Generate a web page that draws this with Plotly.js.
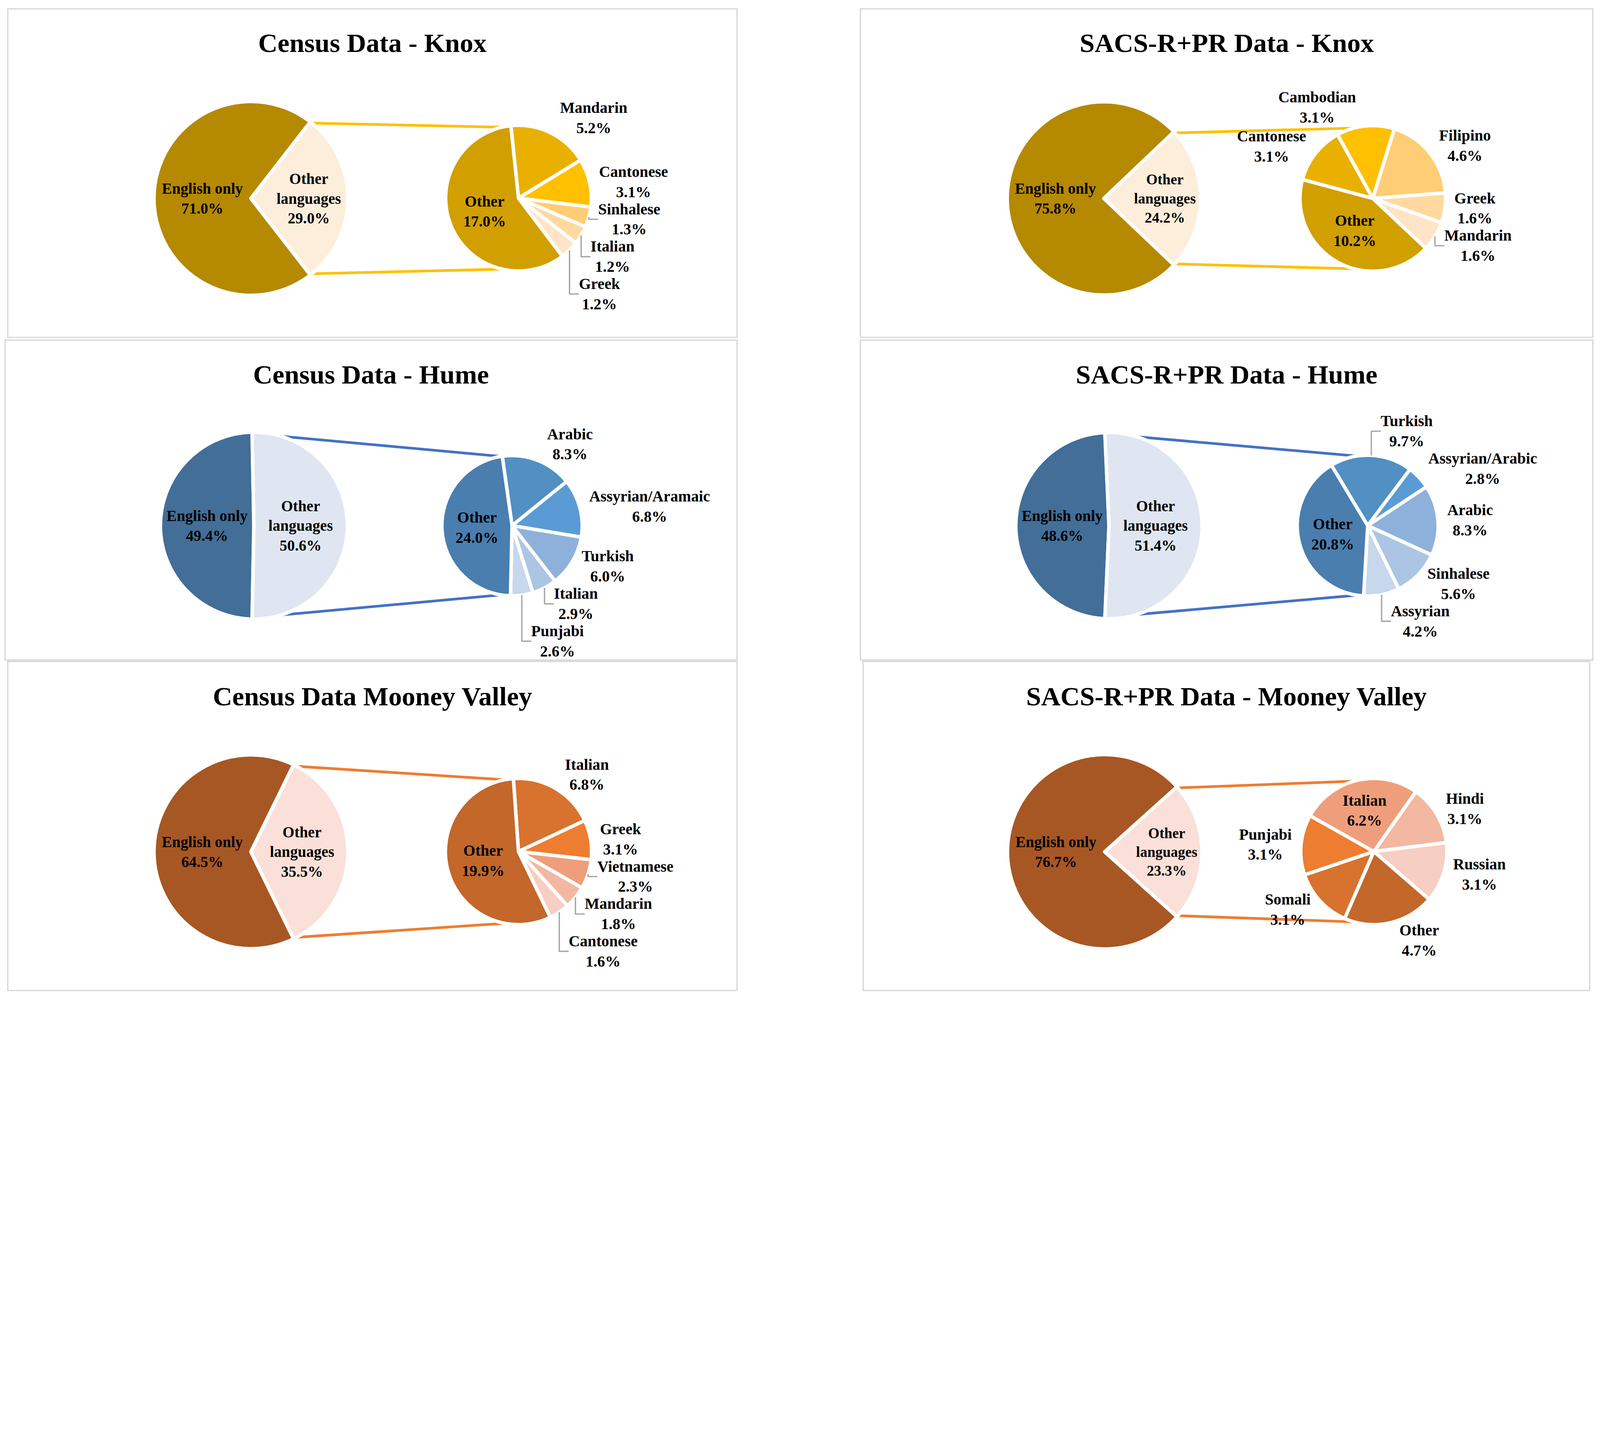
<!DOCTYPE html>
<html><head><meta charset="utf-8">
<script src="https://cdn.plot.ly/plotly-3.0.1.min.js"></script>
<style>html,body{margin:0;padding:0;background:#fff;overflow:hidden;}</style>
</head><body><div id="chart"></div>
<script>
// ---------------- DATA ----------------
const primaryLabels = ['English only', 'Other languages'];

const knoxCensusPrimary = [71.0, 29.0];
const knoxCensusLangs = ['Mandarin', 'Cantonese', 'Sinhalese', 'Italian', 'Greek', 'Other'];
const knoxCensusShares = [5.2, 3.1, 1.3, 1.2, 1.2, 17.0];

const knoxSacsPrimary = [75.8, 24.2];
const knoxSacsLangs = ['Cantonese', 'Cambodian', 'Filipino', 'Greek', 'Mandarin', 'Other'];
const knoxSacsShares = [3.1, 3.1, 4.6, 1.6, 1.6, 10.2];

const humeCensusPrimary = [49.4, 50.6];
const humeCensusLangs = ['Arabic', 'Assyrian/Aramaic', 'Turkish', 'Italian', 'Punjabi', 'Other'];
const humeCensusShares = [8.3, 6.8, 6.0, 2.9, 2.6, 24.0];

const humeSacsPrimary = [48.6, 51.4];
const humeSacsLangs = ['Turkish', 'Assyrian/Arabic', 'Arabic', 'Sinhalese', 'Assyrian', 'Other'];
const humeSacsShares = [9.7, 2.8, 8.3, 5.6, 4.2, 20.8];

const mooneyCensusPrimary = [64.5, 35.5];
const mooneyCensusLangs = ['Italian', 'Greek', 'Vietnamese', 'Mandarin', 'Cantonese', 'Other'];
const mooneyCensusShares = [6.8, 3.1, 2.3, 1.8, 1.6, 19.9];

const mooneySacsPrimary = [76.7, 23.3];
const mooneySacsLangs = ['Somali', 'Punjabi', 'Italian', 'Hindi', 'Russian', 'Other'];
const mooneySacsShares = [3.1, 3.1, 6.2, 3.1, 3.1, 4.7];

const panelTitles = ['Census Data - Knox', 'SACS-R+PR Data - Knox', 'Census Data - Hume',
  'SACS-R+PR Data - Hume', 'Census Data Mooney Valley', 'SACS-R+PR Data - Mooney Valley'];

// ---------------- STYLE / LAYOUT ----------------
const W = 5973, H = 3728;   // design units (reference pixels)
const vw = document.documentElement.clientWidth || window.innerWidth;
const vh = document.documentElement.clientHeight || window.innerHeight;
const S = Math.min(vw / W, vh / H);
const FONT = 'Liberation Serif, Times New Roman, serif';
const palettes = {
  gold:   {primary: ['#B58900', '#FDEEDB'], secondary: ['#E9B000', '#FFC000', '#FFCD75', '#FFD9A0', '#FFE5C5', '#D19F00'], conn: '#FFC000'},
  blue:   {primary: ['#426E98', '#DFE6F2'], secondary: ['#528FC2', '#5B9BD5', '#8EB1DB', '#ADC5E5', '#C7D7EC', '#4A7EAF'], conn: '#4472C4'},
  orange: {primary: ['#A75723', '#FAE0D8'], secondary: ['#D8722F', '#ED7D31', '#EF9E7C', '#F3B8A2', '#F7CEC3', '#C3672A'], conn: '#ED7D31'}
};
const O = 'outside', I = 'inside';
const panels = [
  {prim: knoxCensusPrimary, langs: knoxCensusLangs, shares: knoxCensusShares, pal: 'gold',
   box: [29, 33, 2752, 1260], c1: [937, 741], r1: 356, c2: [1936, 740], r2: 266, rot2: -6, k: 6, ty: 160,
   pos: [O, O, O, O, O, I]},
  {prim: knoxSacsPrimary, langs: knoxSacsLangs, shares: knoxSacsShares, pal: 'gold',
   box: [3213, 33, 5948, 1260], c1: [4122, 741], r1: 355, c2: [5126, 741], r2: 266, rot2: -75, k: 8, ty: 160,
   pos: [O, O, O, O, O, I]},
  {prim: humeCensusPrimary, langs: humeCensusLangs, shares: humeCensusShares, pal: 'blue',
   box: [19, 1270, 2752, 2465], c1: [948, 1963], r1: 343, c2: [1912, 1963], r2: 256, rot2: -8, k: 1, ty: 1399,
   pos: [O, O, O, O, O, I]},
  {prim: humeSacsPrimary, langs: humeSacsLangs, shares: humeSacsShares, pal: 'blue',
   box: [3213, 1270, 5948, 2465], c1: [4141, 1963], r1: 342, c2: [5107, 1963], r2: 257, rot2: -31, k: 0, ty: 1399,
   pos: [O, O, O, O, O, I]},
  {prim: mooneyCensusPrimary, langs: mooneyCensusLangs, shares: mooneyCensusShares, pal: 'orange',
   box: [29, 2470, 2752, 3699], c1: [937, 3181], r1: 356, c2: [1936, 3180], r2: 267, rot2: -4, k: 4, ty: 2601,
   pos: [O, O, O, O, O, I]},
  {prim: mooneySacsPrimary, langs: mooneySacsLangs, shares: mooneySacsShares, pal: 'orange',
   box: [3223, 2470, 5936, 3699], c1: [4125, 3181], r1: 357, c2: [5130, 3180], r2: 267, rot2: 203.5, k: 9, ty: 2601,
   pos: [O, O, I, O, O, O]}
];

function dom(cx, cy, r) {
  return {x: [(cx - r) / W, (cx + r) / W], y: [1 - (cy + r) / H, 1 - (cy - r) / H]};
}
const px = x => x / W, py = y => 1 - y / H;

const traces = [], shapes = [], annotations = [];
panels.forEach((p, i) => {
  const pal = palettes[p.pal];
  const total = p.prim[0] + p.prim[1];
  const f = p.prim[1] / total;
  const primText = primaryLabels.map(l => l.replace(' languages', '<br>languages'));
  traces.push({
    type: 'pie', labels: primaryLabels, values: p.prim, text: primText,
    texttemplate: '%{text}<br>%{value:.1f}%', textposition: 'inside', insidetextorientation: 'horizontal',
    sort: false, direction: 'clockwise', rotation: 90 + f * 180,
    marker: {colors: pal.primary, line: {color: '#ffffff', width: 13 * S}},
    domain: dom(p.c1[0], p.c1[1], p.r1 + 6),
    textfont: {family: FONT, size: 57 * S, color: '#000000', weight: 'bold'},
    hoverinfo: 'skip', showlegend: false
  });
  traces.push({
    type: 'pie', labels: p.langs, values: p.shares,
    texttemplate: '%{label}<br>%{value:.1f}%', textposition: p.pos, insidetextorientation: 'horizontal',
    sort: false, direction: 'clockwise', rotation: p.rot2,
    marker: {colors: pal.secondary, line: {color: '#ffffff', width: 13 * S}},
    domain: dom(p.c2[0], p.c2[1], p.r2 + 6),
    textfont: {family: FONT, size: 58 * S, color: '#000000', weight: 'bold'},
    outsidetextfont: {family: FONT, size: 58 * S, color: '#000000', weight: 'bold'},
    hoverinfo: 'skip', showlegend: false
  });
  shapes.push({type: 'rect', xref: 'paper', yref: 'paper',
    x0: px(p.box[0]), x1: px(p.box[2]), y0: py(p.box[3]), y1: py(p.box[1]),
    line: {color: '#D9D9D9', width: 5 * S}, fillcolor: 'rgba(0,0,0,0)', layer: 'below'});
  const th = (90 - f * 180) * Math.PI / 180;
  const kk = p.k * Math.PI / 180;
  [1, -1].forEach(s => {
    const x0 = p.c1[0] + p.r1 * Math.sin(th);
    const y0 = p.c1[1] - s * p.r1 * Math.cos(th);
    const x1 = p.c2[0] - p.r2 * Math.sin(kk);
    const y1 = p.c2[1] - s * p.r2 * Math.cos(kk);
    shapes.push({type: 'line', xref: 'paper', yref: 'paper',
      x0: px(x0 + 8), y0: py(y0), x1: px(x1 - 8), y1: py(y1),
      line: {color: pal.conn, width: 10 * S}, layer: 'below'});
  });
  annotations.push({text: panelTitles[i], xref: 'paper', yref: 'paper',
    x: px((p.box[0] + p.box[2]) / 2), y: py(p.ty), xanchor: 'center', yanchor: 'middle',
    showarrow: false, font: {family: FONT, size: 100 * S, color: '#000000', weight: 'bold'}});
});

const el = document.getElementById('chart');
el.style.width = Math.floor(W * S) + 'px';
el.style.height = Math.floor(H * S) + 'px';
const layout = {
  width: Math.floor(W * S), height: Math.floor(H * S), margin: {l: 0, r: 0, t: 0, b: 0},
  paper_bgcolor: '#ffffff', plot_bgcolor: '#ffffff',
  font: {family: FONT, color: '#000000'},
  showlegend: false, shapes: shapes, annotations: annotations
};
Plotly.newPlot('chart', traces, layout, {staticPlot: true, displayModeBar: false}).then(() => {
  // leader lines of outside labels in light grey, as in the reference
  document.querySelectorAll('#chart path.textline').forEach(pth => {
    pth.style.stroke = '#A6A6A6';
    pth.style.strokeWidth = (5 * S) + 'px';
  });
});
</script></body></html>
